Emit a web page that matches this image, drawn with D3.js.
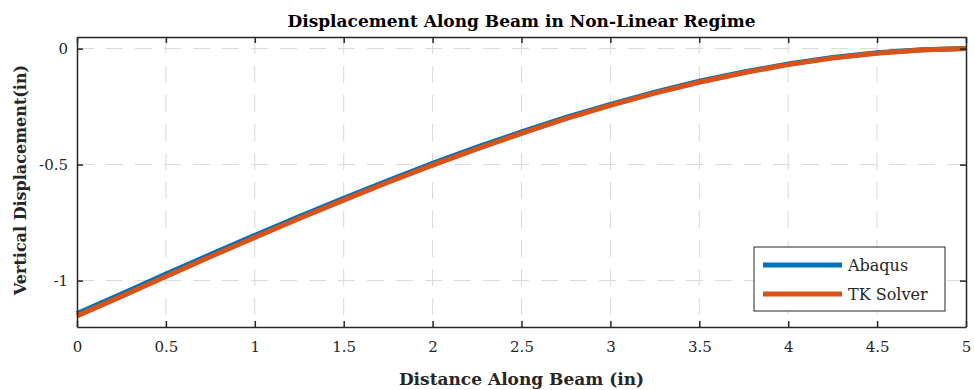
<!DOCTYPE html>
<html>
<head>
<meta charset="utf-8">
<script src="https://cdn.jsdelivr.net/npm/d3@7"></script>
<style>
	body { margin: 0; background: #fff; }
	svg { display: block; }
	.tick text { font-family: "DejaVu Serif", serif; font-size: 15px; fill: #262626; }
</style>
</head>
<body>
<svg id="chart" width="974" height="390"></svg>
<script>
// distance along beam (in)
const distance = [0, 0.25, 0.5, 0.75, 1, 1.25, 1.5, 1.75, 2, 2.25, 2.5, 2.75, 3, 3.25, 3.5, 3.75, 4, 4.25, 4.5, 4.75, 5];
// vertical displacement (in)
const abaqus = [-1.142, -1.058, -0.972, -0.888, -0.805, -0.724, -0.645, -0.569, -0.495, -0.425, -0.359, -0.297, -0.240, -0.188, -0.141, -0.101, -0.066, -0.038, -0.018, -0.005, 0];
const tkSolver = [-1.152, -1.068, -0.982, -0.897, -0.814, -0.732, -0.653, -0.576, -0.502, -0.432, -0.365, -0.302, -0.245, -0.192, -0.145, -0.104, -0.069, -0.041, -0.020, -0.006, 0];
const seriesNames = ['Abaqus', 'TK Solver'];
const seriesColors = ['#0072BD', '#D95319'];
const xTicks = [0, 0.5, 1, 1.5, 2, 2.5, 3, 3.5, 4, 4.5, 5];
const yTicks = [-1, -0.5, 0];

let margin = {top: 37, left: 77, right: 8, bottom: 63},
	width = 974 - margin.left - margin.right,
	height = 390 - margin.top - margin.bottom;

let svg = d3.select('#chart');
let g = svg.append('g')
	.attr('transform', 'translate(' + margin.left + ',' + margin.top + ')');

let x = d3.scaleLinear().domain([0, 5]).range([0, width]);
let y = d3.scaleLinear().domain([-1.2, 0.05]).range([height, 0]);

// grid
let gridStyle = function(sel) {
	sel.attr('stroke', '#d9d9d9').attr('stroke-width', 1).attr('stroke-dasharray', '17,12');
};
g.append('g').selectAll('line').data(xTicks.slice(1, -1)).enter().append('line')
	.attr('x1', d => x(d)).attr('x2', d => x(d))
	.attr('y1', 0).attr('y2', height)
	.call(gridStyle);
g.append('g').selectAll('line').data(yTicks).enter().append('line')
	.attr('x1', 0).attr('x2', width)
	.attr('y1', d => y(d)).attr('y2', d => y(d))
	.call(gridStyle);

// lines
let datasets = [abaqus, tkSolver];
let line = d3.line()
	.x((d, i) => x(distance[i]))
	.y(d => y(d));
datasets.forEach(function(vals, k) {
	g.append('path')
		.datum(vals)
		.attr('fill', 'none')
		.attr('stroke', seriesColors[k])
		.attr('stroke-width', 5)
		.attr('d', line);
});

// axes, MATLAB style with inward ticks and a box
let tickFmt = d => String(d);// plain hyphen minus like the original
let xAxis = d3.axisBottom(x).tickValues(xTicks).tickSizeInner(-6).tickSizeOuter(0).tickPadding(14).tickFormat(tickFmt);
let yAxis = d3.axisLeft(y).tickValues(yTicks).tickSizeInner(-6).tickSizeOuter(0).tickPadding(9).tickFormat(tickFmt);
let xTop = d3.axisTop(x).tickValues(xTicks).tickSizeInner(-6).tickSizeOuter(0).tickFormat('');
let yRight = d3.axisRight(y).tickValues(yTicks).tickSizeInner(-6).tickSizeOuter(0).tickFormat('');

let axisColor = '#262626';
[
	[xAxis, 'translate(0,' + height + ')'],
	[yAxis, 'translate(0,0)'],
	[xTop, 'translate(0,0)'],
	[yRight, 'translate(' + width + ',0)']
].forEach(function(a) {
	let ag = g.append('g').attr('transform', a[1]).call(a[0]);
	ag.select('.domain').attr('stroke', axisColor).attr('stroke-width', 1.5);
	ag.selectAll('.tick line').attr('stroke', axisColor).attr('stroke-width', 1.5);
});

// titles
svg.append('text')
	.attr('x', margin.left + width / 2)
	.attr('y', 27)
	.attr('text-anchor', 'middle')
	.style('font-family', '"DejaVu Serif", serif')
	.style('font-weight', 'bold')
	.style('font-size', '17px')
	.attr('fill', '#000')
	.text('Displacement Along Beam in Non-Linear Regime');

svg.append('text')
	.attr('x', margin.left + width / 2)
	.attr('y', 385)
	.attr('text-anchor', 'middle')
	.style('font-family', '"DejaVu Serif", serif')
	.style('font-weight', 'bold')
	.style('font-size', '17px')
	.attr('fill', '#262626')
	.text('Distance Along Beam (in)');

svg.append('text')
	.attr('transform', 'translate(26,' + (margin.top + height / 2 - 2) + ') rotate(-90)')
	.attr('text-anchor', 'middle')
	.style('font-family', '"DejaVu Serif", serif')
	.style('font-weight', 'bold')
	.style('font-size', '16px')
	.attr('fill', '#262626')
	.text('Vertical Displacement(in)');

// legend
let legend = g.append('g').attr('transform', 'translate(' + (754 - margin.left) + ',' + (247 - margin.top) + ')');
legend.append('rect')
	.attr('width', 191).attr('height', 64)
	.attr('fill', '#fff')
	.attr('stroke', axisColor).attr('stroke-width', 1);
seriesNames.forEach(function(name, k) {
	let ly = 18 + k * 29;
	legend.append('line')
		.attr('x1', 9).attr('x2', 88)
		.attr('y1', ly).attr('y2', ly)
		.attr('stroke', seriesColors[k]).attr('stroke-width', 5);
	legend.append('text')
		.attr('x', 94).attr('y', ly)
		.attr('dy', '0.35em')
		.style('font-family', '"DejaVu Serif", serif')
		.style('font-size', '16px')
		.attr('fill', '#262626')
		.text(name);
});
</script>
</body>
</html>
